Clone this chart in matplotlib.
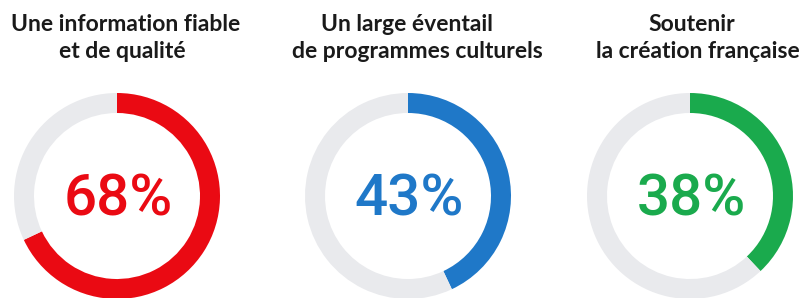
import matplotlib
matplotlib.use("Agg")
import matplotlib.pyplot as plt

title_line1 = ["Une information fiable", "Un large éventail", "Soutenir"]
title_line2 = ["et de qualité", "de programmes culturels", "la création française"]
values = [68, 43, 38]
labels = ["68%", "43%", "38%"]
colors = ["#ea0a13", "#1f78c8", "#1aaa4d"]
track = "#e9eaed"

W, H = 806, 298
fig = plt.figure(figsize=(W / 100, H / 100), dpi=100)
ax = fig.add_axes([0, 0, 1, 1])
ax.set_xlim(0, W)
ax.set_ylim(0, H)
ax.set_aspect("equal")
ax.axis("off")

centers_x = [117, 408, 690]
t1_x = [126, 407, 692]
t2_x = [122, 417, 698]
cy = H - 196
R = 103
for i in range(3):
    ax.pie([values[i], 100 - values[i]], colors=[colors[i], track],
           startangle=90, counterclock=False, center=(centers_x[i], cy),
           radius=R, wedgeprops=dict(width=20, linewidth=0))
    ax.text(centers_x[i] + 1, H - 215, labels[i], ha="center", va="baseline",
            fontsize=42, color=colors[i], family="Roboto", fontweight="medium")
    ax.text(t1_x[i], H - 31, title_line1[i], ha="center", va="baseline",
            fontsize=16.5, fontweight="bold", color="#1a1a1a", family="Lato")
    ax.text(t2_x[i], H - 58, title_line2[i], ha="center", va="baseline",
            fontsize=16.5, fontweight="bold", color="#1a1a1a", family="Lato")
ax.set_xlim(0, W)
ax.set_ylim(0, H)
fig.savefig("out.png", dpi=100)
